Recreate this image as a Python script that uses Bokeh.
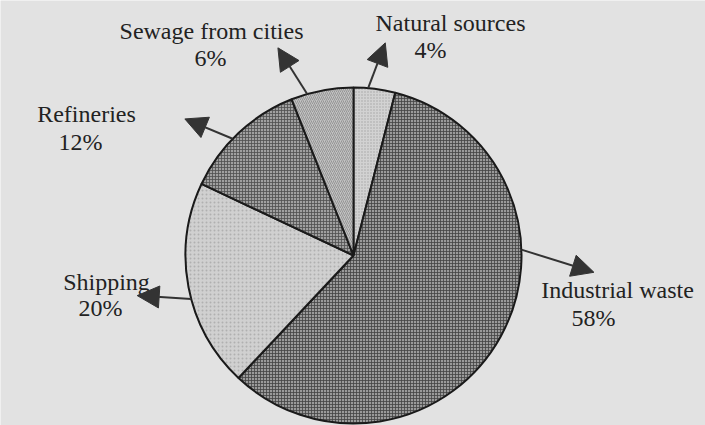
import math
from bokeh.plotting import figure
from bokeh.models import Range1d, Arrow, NormalHead, ColumnDataSource
from bokeh.core.properties import value
from bokeh.embed import file_html
from bokeh.resources import INLINE

# ---- data (clockwise from 12 o'clock) ----
categories = ["Natural sources", "Industrial waste", "Shipping", "Refineries", "Sewage from cities"]
percents = [4, 58, 20, 12, 6]
pct_labels = ["4%", "58%", "20%", "12%", "6%"]

# ---- styles ----
fills = ["#d2d2d2", "#9a9a9a", "#d0d0d0", "#a0a0a0", "#c2c2c2"]
hatches = ["dot", "cross", "dot", "cross", "right_diagonal_line"]
hatch_colors = ["#9a9a9a", "#444444", "#a8a8a8", "#505050", "#8a8a8a"]
hatch_scales = [3, 3, 4, 3, 4]

W, H = 705, 425
cx, cy, R = 353, -255, 168

p = figure(width=W, height=H, output_backend="svg", toolbar_location=None,
           x_range=Range1d(0, W), y_range=Range1d(-H, 0),
           min_border=0)
p.axis.visible = False
p.grid.visible = False
p.outline_line_color = None
p.background_fill_color = "#e2e2e2"
p.border_fill_color = "#e2e2e2"

total = sum(percents)
starts, ends = [], []
acc = 0.0
for v in percents:
    t0 = acc / total * 2 * math.pi
    acc += v
    t1 = acc / total * 2 * math.pi
    # clockwise-from-top -> standard angle
    starts.append(math.pi / 2 - t1)
    ends.append(math.pi / 2 - t0)

src = ColumnDataSource(dict(x=[cx] * 5, y=[cy] * 5, start=starts, end=ends,
                            fill=fills, hatch=hatches, hc=hatch_colors, hs=hatch_scales))
p.wedge(x="x", y="y", radius=R, start_angle="start", end_angle="end",
        fill_color="fill", line_color="#1a1a1a", line_width=2,
        hatch_pattern="hatch", hatch_color="hc", hatch_scale="hs", hatch_weight=1,
        hatch_alpha=0.8, source=src)

# ---- arrows (angles clockwise from top, in degrees) ----
arrow_base_deg = [5, 88, 255, 314, 344]
arrow_tip_deg = [8.5, 94, 259.5, 309, 340]
arrow_tip_r = [215, 241, 220, 217, 221]
for b, t, r in zip(arrow_base_deg, arrow_tip_deg, arrow_tip_r):
    bx = cx + R * math.sin(math.radians(b))
    by = cy + R * math.cos(math.radians(b))
    tx = cx + r * math.sin(math.radians(t))
    ty = cy + r * math.cos(math.radians(t))
    p.add_layout(Arrow(x_start=bx, y_start=by, x_end=tx, y_end=ty,
                       line_color="#333333", line_width=2,
                       end=NormalHead(size=22, fill_color="#333333", line_color="#333333")))

# ---- labels (centers in image px) ----
name_pos = [(450, 22), (617, 289), (106, 281), (86, 113), (211, 30)]
pct_pos = [(430, 49), (593, 317), (100, 307), (80, 141), (210, 57)]

p.text(x=[q[0] for q in name_pos], y=[-q[1] for q in name_pos], text=categories,
       text_font=value("Liberation Serif"), text_font_size="24px",
       text_color="#222222", text_align="center", text_baseline="middle")
p.text(x=[q[0] for q in pct_pos], y=[-q[1] for q in pct_pos], text=pct_labels,
       text_font=value("Liberation Serif"), text_font_size="24px",
       text_color="#222222", text_align="center", text_baseline="middle")

open("out.html", "w").write(file_html(p, INLINE))
